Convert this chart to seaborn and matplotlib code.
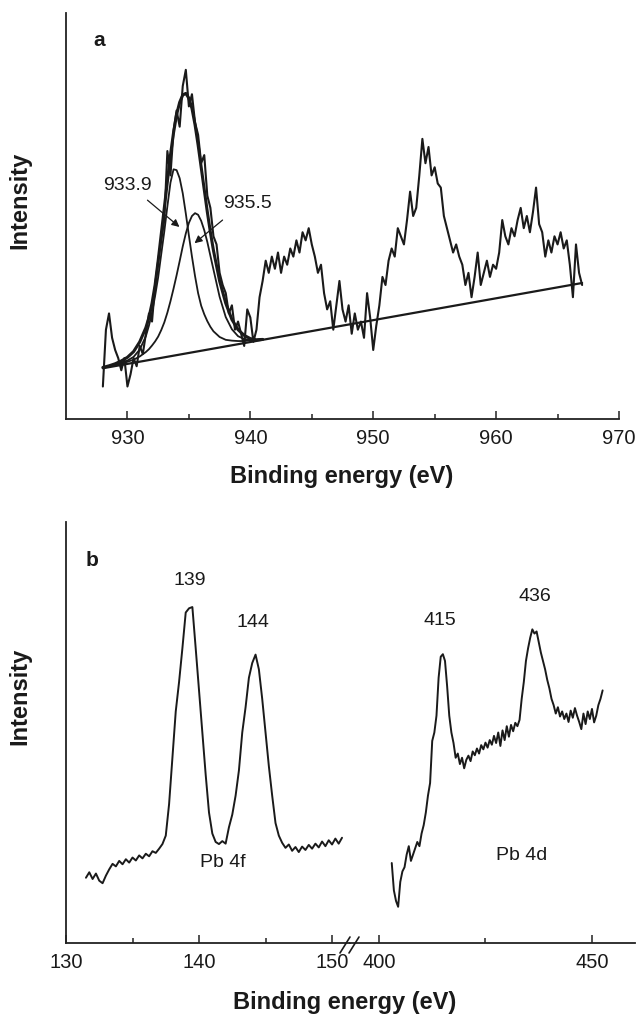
import numpy as np
import matplotlib
matplotlib.use("Agg")
import matplotlib.pyplot as plt
from matplotlib.lines import Line2D
import seaborn as sns

sns.set_theme(style="ticks")
plt.rcParams['font.family'] = ['Liberation Sans', 'DejaVu Sans']

# ---- panel a : Cu 2p3/2 region, raw counts every 0.25 eV from 928 eV
cu_start, cu_step = 928.0, 0.25
cu_counts = [8, 22, 26, 20, 17, 15, 12, 15, 8, 11, 15, 13, 18, 16, 21, 26,
             24, 33, 39, 44, 49, 66, 60, 71, 76, 72, 82, 86, 77, 80, 73, 70,
             63, 65, 55, 52, 45, 43, 36, 33, 31, 26, 28, 22, 24, 21, 18, 27,
             25, 19, 22, 30, 34, 39, 36, 40, 37, 41, 36, 40, 38, 42, 40, 44,
             41, 46, 44, 47, 43, 40, 36, 38, 31, 27, 29, 22, 28, 34, 27, 24,
             28, 21, 26, 22, 24, 20, 31, 25, 17, 23, 28, 35, 33, 39, 42, 40,
             47, 45, 43, 49, 56, 50, 52, 60, 69, 63, 67, 60, 62, 58, 57, 50,
             47, 44, 41, 43, 40, 38, 33, 36, 30, 35, 41, 33, 36, 39, 35, 38,
             37, 41, 49, 45, 43, 47, 45, 49, 52, 47, 50, 46, 51, 57, 48, 46,
             40, 44, 41, 45, 43, 46, 42, 44, 38, 30, 43, 36, 33]

# fitted curves
fit_ev = [928.0, 928.5, 929.0, 929.5, 930.0, 930.5, 931.0, 931.5,
          931.75, 932.0, 932.25, 932.5, 932.75, 933.0, 933.25, 933.5,
          933.75, 934.0, 934.25, 934.5, 934.75, 935.0, 935.25, 935.5,
          935.75, 936.0, 936.25, 936.5, 936.75, 937.0,
          937.5, 938.0, 938.5, 939.0, 939.5, 940.0, 940.5, 941.0]
fit_envelope = [12.7, 13.1, 13.6, 14.3, 15.2, 16.6, 19.0, 22.5,
                25.0, 28.5, 33.0, 39.0, 45.5, 52.0, 58.5, 65.0,
                70.5, 75.0, 78.0, 79.8, 80.2, 79.0, 76.5, 72.5,
                67.5, 62.0, 56.5, 51.0, 46.0, 41.5,
                34.0, 28.5, 24.5, 22.0, 20.6, 19.8, 19.5, 19.6]
fit_peak1 = [12.6, 13.0, 13.3, 13.8, 14.4, 15.3, 17.1, 20.4,
             23.0, 26.2, 30.3, 34.9, 40.6, 46.2, 52.4, 58.2,
             61.5, 61.3, 59.3, 55.6, 50.6, 45.2, 40.0, 35.2,
             31.0, 27.9, 25.8, 24.1, 22.7, 21.6,
             20.2, 19.5, 19.3, 19.2, 19.2, 19.4, 19.5, 19.7]
fit_peak2 = [12.6, 12.95, 13.2, 13.6, 14.1, 14.6, 15.4, 16.5,
             17.2, 18.1, 19.1, 20.3, 21.9, 23.8, 26.2, 29.0,
             32.1, 35.4, 38.9, 42.5, 45.7, 48.3, 50.0, 50.7,
             50.3, 48.8, 46.5, 43.6, 40.2, 36.8,
             30.1, 25.1, 22.1, 20.4, 19.7, 19.5, 19.5, 19.7]
baseline_ev = [928.0, 967.0]
baseline_int = [12.5, 33.5]

# ---- panel b : Pb 4f (0.25 eV from 131.5) and Pb 4d (0.5 eV from 403)
pb4f_start, pb4f_step = 131.5, 0.25
pb4f_counts = [15.5, 16.8, 15.2, 16.5, 14.8, 14.2, 16.0, 17.5, 18.8, 18.2,
               19.5, 18.7, 19.9, 19.1, 20.3, 19.6, 20.8, 20.1, 21.2, 20.6,
               21.8, 21.4, 22.4, 23.5, 25.5, 33, 44, 55, 62, 70,
               78.5, 79.5, 79.8, 70, 60, 50, 40, 31, 26, 24,
               23.5, 24.2, 23.6, 27.5, 30.5, 35, 41, 50, 56, 63,
               66.5, 68.5, 65, 58, 50, 42, 35, 28.5, 25.5, 23.8,
               22.6, 23.4, 21.9, 22.8, 21.6, 22.9, 22.1, 23.3, 22.4, 23.6,
               22.7, 24.1, 23.0, 24.4, 23.4, 24.8, 23.6, 25.0]
pb4d_start, pb4d_step = 403.0, 0.5
pb4d_counts = [19, 12.5, 10, 8.6, 14.5, 17, 18, 21, 23, 19.5,
               21, 22.5, 24, 23, 26, 28, 31, 35, 38, 48,
               50, 54, 63, 68, 68.6, 67, 61, 54, 50, 47.5,
               44, 45, 42.5, 44, 41.5, 43.5, 44.5, 43.2, 45.5, 44.6,
               46.2, 45.0, 47.0, 46.0, 47.6, 46.4, 48.2, 47.1, 49.2, 47.5,
               50.0, 46.8, 50.5, 48.2, 51.5, 49.0, 51.8, 50.3, 52.3, 51.5,
               53, 58, 62, 67, 70, 72.5, 74.5, 73.5, 74, 71.5,
               69, 67, 65, 62.5, 60.5, 58, 56.5, 54.5, 56, 53.8,
               55, 53.2, 54.5, 52.5, 55.2, 53.5, 55.8, 54.0, 52.5, 50.8,
               54.5, 52.0, 55, 53.2, 55.6, 52.4, 54.0, 56.5, 58, 60]

cu_ev = cu_start + cu_step * np.arange(len(cu_counts))
pb4f_ev = pb4f_start + pb4f_step * np.arange(len(pb4f_counts))
pb4d_ev = pb4d_start + pb4d_step * np.arange(len(pb4d_counts))

INK = '#1a1a1a'
W, H = 640, 1016
fig = plt.figure(figsize=(W / 100, H / 100), dpi=100)


def box(x0, x1, ytop, ybot):
    return [x0 / W, 1 - ybot / H, (x1 - x0) / W, (ybot - ytop) / H]


def style(ax, left=True):
    for s in ['top', 'right']:
        ax.spines[s].set_visible(False)
    ax.spines['left'].set_visible(left)
    for s in ['left', 'bottom']:
        ax.spines[s].set_color('#222222')
        ax.spines[s].set_linewidth(1.3)
    ax.set_yticks([])
    ax.set_ylim(0, 100)
    ax.tick_params(axis='x', which='major', direction='in', length=6, width=1.1,
                   color='#222222', labelsize=14.5, pad=7, labelcolor=INK)
    ax.tick_params(axis='x', which='minor', direction='in', length=3.5, width=1.1,
                   color='#222222')
    ax.set_xlabel('')
    ax.set_ylabel('')


ax_a = fig.add_axes(box(66, 619, 13, 419))
ax_b1 = fig.add_axes(box(66, 350, 522, 943))
ax_b2 = fig.add_axes(box(350, 635, 522, 943))

# panel a
sns.lineplot(x=cu_ev, y=cu_counts, ax=ax_a, color=INK, linewidth=1.5,
             estimator=None, sort=False)
sns.lineplot(x=baseline_ev, y=baseline_int, ax=ax_a, color=INK, linewidth=1.6,
             estimator=None, sort=False)
sns.lineplot(x=fit_ev, y=fit_envelope, ax=ax_a, color=INK, linewidth=2.2,
             estimator=None, sort=False)
sns.lineplot(x=fit_ev, y=fit_peak1, ax=ax_a, color=INK, linewidth=1.3,
             estimator=None, sort=False)
sns.lineplot(x=fit_ev, y=fit_peak2, ax=ax_a, color=INK, linewidth=1.3,
             estimator=None, sort=False)
style(ax_a)
ax_a.set_xlim(925, 970)
ax_a.set_xticks([930, 940, 950, 960, 970])
ax_a.set_xticks([935, 945, 955, 965], minor=True)

arrow = dict(arrowstyle='-|>', color=INK, lw=0.9, mutation_scale=11,
             shrinkA=0, shrinkB=0)
ax_a.text(930.0, 57.6, '933.9', ha='center', va='center', fontsize=14, color=INK)
ax_a.annotate('', xy=(934.23, 47.3), xytext=(931.63, 53.9), arrowprops=arrow)
ax_a.text(939.8, 53.2, '935.5', ha='center', va='center', fontsize=14, color=INK)
ax_a.annotate('', xy=(935.46, 43.3), xytext=(937.74, 49.0), arrowprops=arrow)

# panel b
sns.lineplot(x=pb4f_ev, y=pb4f_counts, ax=ax_b1, color=INK, linewidth=1.4,
             estimator=None, sort=False)
sns.lineplot(x=pb4d_ev, y=pb4d_counts, ax=ax_b2, color=INK, linewidth=1.4,
             estimator=None, sort=False)
style(ax_b1)
style(ax_b2, left=False)
ax_b1.set_xlim(130, 151.35)
ax_b1.set_xticks([130, 140, 150])
ax_b1.set_xticks([135, 145], minor=True)
ax_b2.set_xlim(393.2, 460.1)
ax_b2.set_xticks([400, 450])
ax_b2.set_xticks([425], minor=True)

ax_b1.text(139.3, 86.2, '139', ha='center', va='center', fontsize=14, color=INK)
ax_b1.text(144.06, 76.2, '144', ha='center', va='center', fontsize=14, color=INK)
ax_b1.text(141.8, 19.2, 'Pb 4f', ha='center', va='center', fontsize=14, color=INK)
ax_b2.text(414.3, 76.7, '415', ha='center', va='center', fontsize=14, color=INK)
ax_b2.text(436.6, 82.2, '436', ha='center', va='center', fontsize=14, color=INK)
ax_b2.text(433.6, 20.9, 'Pb 4d', ha='center', va='center', fontsize=14, color=INK)

# axis break marks
for x0 in (340, 349):
    fig.add_artist(Line2D([x0 / W, (x0 + 10) / W], [1 - 953 / H, 1 - 937 / H],
                          color=INK, lw=1.2))

# labels
bold = dict(fontsize=17, fontweight='bold', color=INK, ha='center', va='center')
fig.text(342 / W, 1 - 477 / H, 'Binding energy (eV)', **bold)
fig.text(345 / W, 1 - 1003 / H, 'Binding energy (eV)', **bold)
fig.text(20 / W, 1 - 200 / H, 'Intensity', rotation=90, **bold)
fig.text(20 / W, 1 - 696 / H, 'Intensity', rotation=90, **bold)
fig.text(99 / W, 1 - 40 / H, 'a', fontsize=15, fontweight='bold', color=INK,
         ha='center', va='center')
fig.text(92 / W, 1 - 560 / H, 'b', fontsize=15, fontweight='bold', color=INK,
         ha='center', va='center')

fig.savefig('out.png', dpi=100)
